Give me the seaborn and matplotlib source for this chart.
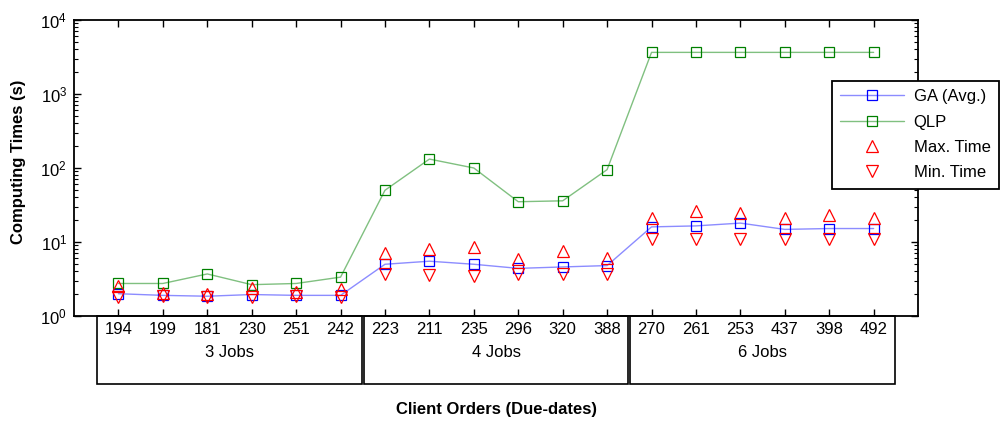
import matplotlib
matplotlib.use('Agg')
import matplotlib.pyplot as plt
import numpy as np
import pandas as pd
import seaborn as sns
from matplotlib.patches import Rectangle

# client orders (due-dates), grouped by number of jobs
orders = ['194', '199', '181', '230', '251', '242',
          '223', '211', '235', '296', '320', '388',
          '270', '261', '253', '437', '398', '492']
groups = ['3 Jobs', '4 Jobs', '6 Jobs']
group_size = 6

ga_avg = [2.0, 1.9, 1.85, 1.95, 1.9, 1.9,
          5.0, 5.5, 5.0, 4.4, 4.6, 4.8,
          16.0, 16.5, 18.0, 14.8, 15.2, 15.2]
qlp = [2.75, 2.75, 3.7, 2.65, 2.75, 3.35,
       50, 132, 100, 35, 36, 95,
       3650, 3650, 3650, 3650, 3650, 3650]
max_time = [2.55, 2.05, 2.0, 2.4, 2.1, 2.35,
            7.2, 8.1, 8.6, 5.9, 7.5, 6.1,
            21.0, 26.0, 25.0, 21.0, 23.5, 21.0]
min_time = [1.8, 1.85, 1.8, 1.8, 1.85, 1.8,
            3.65, 3.55, 3.5, 3.7, 3.7, 3.75,
            11.0, 11.0, 11.0, 11.0, 11.0, 11.0]

df = pd.DataFrame({'pos': np.arange(len(orders)), 'order': orders,
                   'ga': ga_avg, 'qlp': qlp, 'max': max_time, 'min': min_time})

sns.set_style('ticks')
plt.rcParams['font.family'] = ['Liberation Sans', 'DejaVu Sans']
plt.rcParams['mathtext.default'] = 'regular'
plt.rcParams['axes.edgecolor'] = 'black'
plt.rcParams['text.color'] = 'black'
plt.rcParams['axes.labelcolor'] = 'black'
plt.rcParams['xtick.color'] = 'black'
plt.rcParams['ytick.color'] = 'black'

fig = plt.figure(figsize=(10.03, 4.28), dpi=100)
ax = fig.add_axes([0.0738, 0.2617, 0.8415, 0.6916])

sns.lineplot(data=df, x='pos', y='ga', ax=ax, color='#8c8cff', lw=1, marker='s', markersize=7.5,
             markerfacecolor='none', markeredgecolor='#0000ff', markeredgewidth=0.9, label='GA (Avg.)')
sns.lineplot(data=df, x='pos', y='qlp', ax=ax, color='#80c080', lw=1, marker='s', markersize=7.5,
             markerfacecolor='none', markeredgecolor='#008000', markeredgewidth=0.9, label='QLP')
sns.lineplot(data=df, x='pos', y='max', ax=ax, color='red', linestyle='', marker='^', markersize=9,
             markerfacecolor='none', markeredgecolor='#ff0000', markeredgewidth=0.9, label='Max. Time')
sns.lineplot(data=df, x='pos', y='min', ax=ax, color='red', linestyle='', marker='v', markersize=9,
             markerfacecolor='none', markeredgecolor='#ff0000', markeredgewidth=0.9, label='Min. Time')

ax.set_yscale('log')
ax.set_ylim(1, 1e4)
ax.set_xlim(-1, len(orders))
ax.set_xticks(df['pos'], orders)

for s in ax.spines.values():
    s.set_linewidth(1.3)
    s.set_color('black')

ax.tick_params(axis='x', which='both', direction='in', top=True, length=5, width=1,
               labelsize=12, pad=4, colors='black')
ax.tick_params(axis='y', which='major', direction='in', right=True, length=5, width=1,
               labelsize=12, pad=5, colors='black')
ax.tick_params(axis='y', which='minor', direction='in', right=True, length=3, width=0.8, colors='black')

# group boxes under the axis
trans = ax.get_xaxis_transform()
box_h = 0.23
gap = 0.025
for i, g in enumerate(groups):
    x0 = i * group_size - 0.5
    ax.add_patch(Rectangle((x0 + gap, -box_h), group_size - 2 * gap, box_h, transform=trans,
                           fill=False, edgecolor='black', lw=1.2, clip_on=False))
    ax.text(x0 + group_size / 2, -0.122, g, transform=trans, ha='center', va='center', fontsize=12)

ax.set_xlabel('Client Orders (Due-dates)', fontsize=12, fontweight='bold')
ax.xaxis.set_label_coords(0.5, -0.292)
ax.set_ylabel('Computing Times (s)', fontsize=12, fontweight='bold')
ax.yaxis.set_label_coords(-0.057, 0.52)

leg = ax.legend(loc='upper left', bbox_to_anchor=(832 / 1003, 1 - 81 / 428), bbox_transform=fig.transFigure,
                borderaxespad=0, frameon=True, fancybox=False, edgecolor='black', framealpha=1,
                fontsize=12, handlelength=3.8, handletextpad=0.6, borderpad=0.5, labelspacing=0.62)
leg.get_frame().set_linewidth(1.3)

plt.savefig('out.png', dpi=100)
